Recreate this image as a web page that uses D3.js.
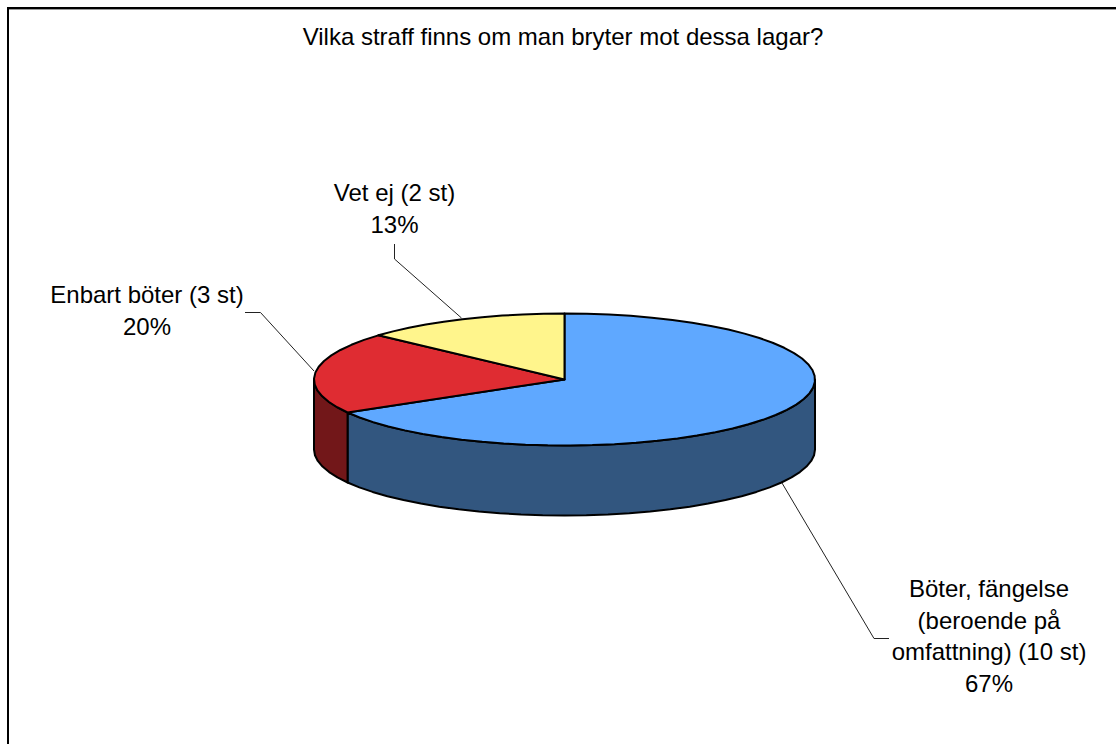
<!DOCTYPE html>
<html>
<head>
<meta charset="utf-8">
<script src="https://cdn.jsdelivr.net/npm/d3@7"></script>
<style>
  html, body { margin: 0; padding: 0; background: #fff; }
  svg { display: block; }
  text { font-family: "Liberation Sans", Arial, sans-serif; font-size: 24px; fill: #000; }
</style>
</head>
<body>
<svg id="chart" width="1116" height="744"></svg>
<script>
const title = "Vilka straff finns om man bryter mot dessa lagar?"
const categories = ["Böter, fängelse (beroende på omfattning) (10 st)", "Enbart böter (3 st)", "Vet ej (2 st)"]
const values = [10, 3, 2]
const percent_labels = ["67%", "20%", "13%"]
const top_colors = ["#5FA8FF", "#DF2C32", "#FFF58C"]
const side_colors = ["#32567F", "#721719", "#807A46"]
const label_lines = [["Böter, fängelse", "(beroende på", "omfattning) (10 st)", "67%"], ["Enbart böter (3 st)", "20%"], ["Vet ej (2 st)", "13%"]]

const svg = d3.select('#chart')

// FRAME
svg.append('rect')
    .attr('x', 8).attr('y', 8)
    .attr('width', 1200).attr('height', 800)
    .attr('fill', '#fff')
    .attr('stroke', '#000')
    .attr('stroke-width', 2)

svg.append('line')
    .attr('x1', 9).attr('x2', 1116)
    .attr('y1', 9.5).attr('y2', 9.5)
    .attr('stroke', '#999')
    .attr('stroke-width', 1)

// PIE GEOMETRY
let cx = 564.5, cy = 379.5, rx = 250.5, ry = 66, depth = 70
let x = d3.scaleLinear().domain([-1, 1]).range([cx - rx, cx + rx])
let y = d3.scaleLinear().domain([-1, 1]).range([cy - ry, cy + ry])

let slices = d3.pie().sort(null).startAngle(0).endAngle(2 * Math.PI)(values)

// coarse steps on purpose, the original rim is a visible polygon
function rim(a0, a1, dy) {
    let steps = Math.max(2, Math.ceil((a1 - a0) / 0.09))
    return d3.range(steps + 1).map(i => {
        let a = a0 + (a1 - a0) * i / steps
        return [x(Math.sin(a)), y(-Math.cos(a)) + dy]
    })
}

let line = d3.line()

// SIDE WALLS, ONLY THE FRONT HALF (PI/2 TO 3PI/2) IS VISIBLE
slices.forEach((s, i) => {
    let a0 = Math.max(s.startAngle, Math.PI / 2)
    let a1 = Math.min(s.endAngle, 3 * Math.PI / 2)
    if (a1 <= a0) return
    let pts = rim(a0, a1, 0).concat(rim(a0, a1, depth).reverse())
    svg.append('path')
        .attr('d', line(pts) + 'Z')
        .attr('fill', side_colors[i])
        .attr('stroke', '#000')
        .attr('stroke-width', 2)
        .attr('stroke-linejoin', 'round')
})

// TOP FACE
slices.forEach((s, i) => {
    let pts = [[x(0), y(0)]].concat(rim(s.startAngle, s.endAngle, 0))
    svg.append('path')
        .attr('d', line(pts) + 'Z')
        .attr('fill', top_colors[i])
        .attr('stroke', '#000')
        .attr('stroke-width', 2)
        .attr('stroke-linejoin', 'round')
})

// TITLE
svg.append('text')
    .attr('x', 563).attr('y', 45)
    .attr('text-anchor', 'middle')
    .text(title)

// LABELS
let label_pos = [[989, 597], [147, 303], [394.5, 201]]
label_lines.forEach((lines, i) => {
    let t = svg.append('text').attr('text-anchor', 'middle')
    lines.forEach((l, j) => {
        t.append('tspan')
            .attr('x', label_pos[i][0])
            .attr('y', label_pos[i][1] + j * 31.5)
            .text(l)
    })
})

// LEADER LINES
let leaders = [
    [[782, 483], [874, 638.5], [889, 638.5]],
    [[314, 371], [260.5, 312.5], [245, 312.5]],
    [[461.5, 318], [394.5, 259], [394.5, 244]]
]
leaders.forEach(l => {
    svg.append('path')
        .attr('d', line(l))
        .attr('fill', 'none')
        .attr('stroke', '#222')
        .attr('stroke-width', 1)
})
</script>
</body>
</html>
